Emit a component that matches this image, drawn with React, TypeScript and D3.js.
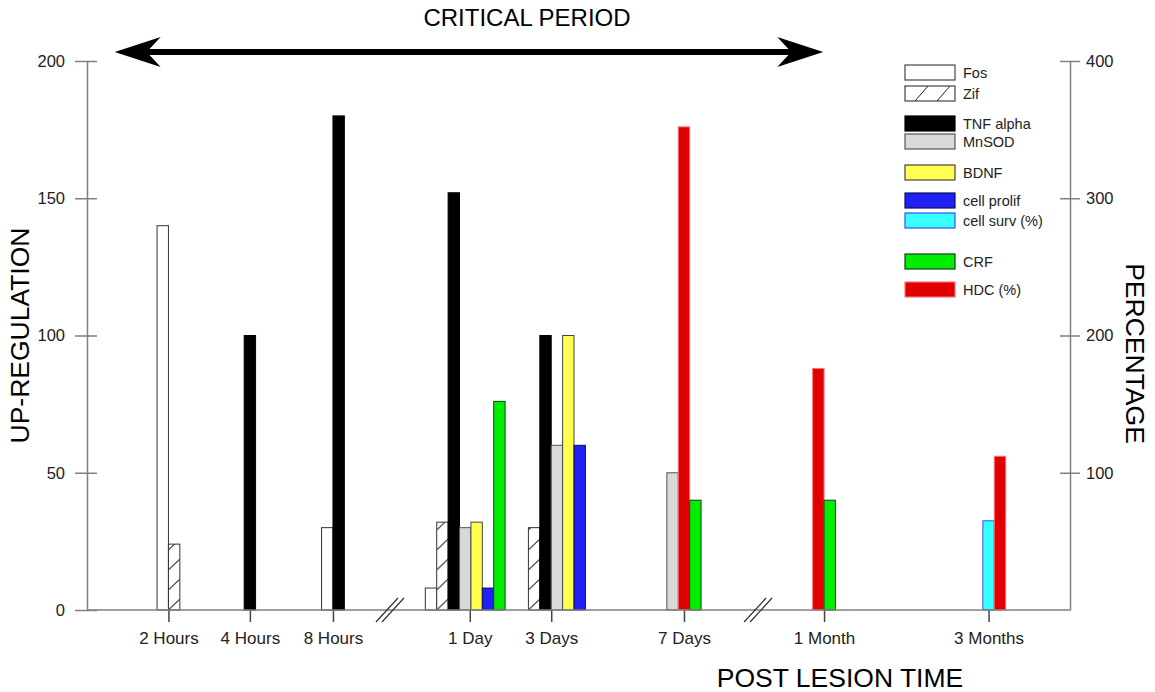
import { useEffect, useRef } from "react";
import * as d3 from "d3";

// Post-lesion time points and where they sit on the (broken) time axis
const categories = ["2 Hours", "4 Hours", "8 Hours", "1 Day", "3 Days", "7 Days", "1 Month", "3 Months"];
const categoryPos = [1, 2, 3.02, 4.7, 5.7, 7.33, 9.05, 11.07];

// Up-regulation values (left axis)
const fos = [140, null, 30, 8, null, null, null, null];
const zif = [24, null, null, 32, 30, null, null, null];
const tnfAlpha = [null, 100, 180, 152, 100, null, null, null];
const mnSod = [null, null, null, 30, 60, 50, null, null];
const bdnf = [null, null, null, 32, 100, null, null, null];
const cellProlif = [null, null, null, 8, 60, null, null, null];
const crf = [null, null, null, 76, null, 40, 40, null];

// Percentage values (right axis)
const cellSurvPct = [null, null, null, null, null, null, null, 65];
const hdcPct = [null, null, null, null, null, 352, 176, 112];

const leftTicks = [0, 50, 100, 150, 200];
const rightTicks = [100, 200, 300, 400];

type Series = {
  name: string;
  values: (number | null)[];
  axis: "left" | "right";
  fill: string;
  stroke: string;
  hatch?: boolean;
};

const S_FOS: Series = { name: "Fos", values: fos, axis: "left", fill: "#ffffff", stroke: "#333" };
const S_ZIF: Series = { name: "Zif", values: zif, axis: "left", fill: "#ffffff", stroke: "#333", hatch: true };
const S_TNF: Series = { name: "TNF alpha", values: tnfAlpha, axis: "left", fill: "#000000", stroke: "#000" };
const S_MNSOD: Series = { name: "MnSOD", values: mnSod, axis: "left", fill: "#d9d9d9", stroke: "#555" };
const S_BDNF: Series = { name: "BDNF", values: bdnf, axis: "left", fill: "#ffff50", stroke: "#444" };
const S_PROLIF: Series = { name: "cell prolif", values: cellProlif, axis: "left", fill: "#2020f5", stroke: "#10105a" };
const S_SURV: Series = { name: "cell surv (%)", values: cellSurvPct, axis: "right", fill: "#38ffff", stroke: "#3050ff" };
const S_CRF: Series = { name: "CRF", values: crf, axis: "left", fill: "#00ee00", stroke: "#1a3a1a" };
const S_HDC: Series = { name: "HDC (%)", values: hdcPct, axis: "right", fill: "#e00000", stroke: "#ff7070" };

const drawOrder = [S_FOS, S_ZIF, S_TNF, S_MNSOD, S_BDNF, S_PROLIF, S_SURV, S_HDC, S_CRF];
const legendOrder = [S_FOS, S_ZIF, S_TNF, S_MNSOD, S_BDNF, S_PROLIF, S_SURV, S_CRF, S_HDC];

// layout
const groupShift = [0, 0, 0, -0.4, 0.5, 0, 0, 0.5];
const legendTops = [65, 86, 116, 134, 165, 193, 213, 254, 282];
const breaks = [3.72, 8.24];
const arrowFrom = 0.34;
const arrowTo = 9.04;

const FONT = "'Liberation Sans', Arial, Helvetica, sans-serif";

export default function App() {
  const svgRef = useRef<SVGSVGElement>(null);

  useEffect(() => {
    if (!svgRef.current) return;
    const svg = d3.select(svgRef.current);
    svg.selectAll("*").remove();

    const left = 87;
    const right = 1070;
    const top = 61;
    const bottom = 610;
    const barW = 11.4;
    const axisColor = "#808080";
    const textColor = "#222";

    const x = d3.scaleLinear().domain([0, 12.07]).range([left, right]);
    const yLeft = d3.scaleLinear().domain([0, 200]).range([bottom, top]);
    const yRight = d3.scaleLinear().domain([0, 400]).range([bottom, top]);

    const defs = svg.append("defs");

    const addHatch = (id: string, x0: number, w: number, y0: number) => {
      const p = defs
        .append("pattern")
        .attr("id", id)
        .attr("patternUnits", "userSpaceOnUse")
        .attr("x", x0)
        .attr("y", y0)
        .attr("width", w)
        .attr("height", 20);
      p.append("rect").attr("width", w).attr("height", 20).attr("fill", "#fff");
      p.append("line")
        .attr("x1", 0)
        .attr("y1", 20)
        .attr("x2", w)
        .attr("y2", 9)
        .attr("stroke", "#222")
        .attr("stroke-width", 1);
    };

    // Bars
    const bars = svg.append("g");
    categories.forEach((_, i) => {
      const present = drawOrder.filter((s) => s.values[i] != null);
      const start = -present.length / 2 + groupShift[i];
      const cx = x(categoryPos[i]);
      present.forEach((s, k) => {
        const v = s.values[i] as number;
        const y = s.axis === "left" ? yLeft(v) : yRight(v);
        const bx = cx + (start + k) * barW;
        let fill = s.fill;
        if (s.hatch) {
          const id = `zif-hatch-${i}`;
          addHatch(id, bx, barW, bottom);
          fill = `url(#${id})`;
        }
        bars
          .append("rect")
          .attr("x", bx)
          .attr("y", y)
          .attr("width", barW)
          .attr("height", bottom - y)
          .attr("fill", fill)
          .attr("stroke", s.stroke)
          .attr("stroke-width", 1);
      });
    });

    // Left axis
    const gl = svg
      .append("g")
      .attr("transform", `translate(${left},0)`)
      .call(d3.axisLeft(yLeft).tickValues(leftTicks).tickSize(12).tickSizeOuter(0).tickPadding(10));
    gl.select(".domain").attr("stroke", axisColor).attr("stroke-width", 1.5);
    gl.selectAll(".tick line").attr("stroke", axisColor).attr("stroke-width", 1.5).attr("x1", 10);
    gl.selectAll(".tick text")
      .attr("fill", textColor)
      .style("font-family", FONT)
      .style("font-size", "16.5px")
      .attr("x", -22);

    // Right axis
    const gr = svg
      .append("g")
      .attr("transform", `translate(${right},0)`)
      .call(d3.axisRight(yRight).tickValues(rightTicks).tickSize(10).tickSizeOuter(0).tickPadding(6));
    gr.select(".domain").attr("stroke", axisColor).attr("stroke-width", 1.5);
    gr.selectAll(".tick line").attr("stroke", axisColor).attr("stroke-width", 1.5).attr("x1", -10);
    gr.selectAll(".tick text")
      .attr("fill", textColor)
      .style("font-family", FONT)
      .style("font-size", "16.5px");

    // Bottom axis
    const gb = svg
      .append("g")
      .attr("transform", `translate(0,${bottom})`)
      .call(
        d3
          .axisBottom(x)
          .tickValues(categoryPos)
          .tickFormat((_, i) => categories[i])
          .tickSize(12)
          .tickSizeOuter(0)
          .tickPadding(10)
      );
    gb.select(".domain").remove();
    gb.append("line")
      .attr("x1", left)
      .attr("x2", right)
      .attr("stroke", axisColor)
      .attr("stroke-width", 1.5);
    gb.selectAll(".tick line").attr("stroke", "#444").attr("stroke-width", 1.5);
    gb.selectAll(".tick text")
      .attr("fill", textColor)
      .style("font-family", FONT)
      .style("font-size", "17px");

    // Axis breaks
    breaks.forEach((b) => {
      const bx = x(b);
      [-3, 3].forEach((dx) => {
        svg
          .append("line")
          .attr("x1", bx + dx - 11)
          .attr("y1", bottom + 12)
          .attr("x2", bx + dx + 11)
          .attr("y2", bottom - 12)
          .attr("stroke", "#333")
          .attr("stroke-width", 1.2);
      });
    });

    // Critical period arrow
    const ay = 52;
    const ax0 = x(arrowFrom);
    const ax1 = x(arrowTo);
    svg
      .append("line")
      .attr("x1", ax0 + 30)
      .attr("x2", ax1 - 30)
      .attr("y1", ay)
      .attr("y2", ay)
      .attr("stroke", "#000")
      .attr("stroke-width", 6);
    const head = (tip: number, dir: number) =>
      `M${tip},${ay} L${tip + dir * 46},${ay - 15} L${tip + dir * 32},${ay} L${tip + dir * 46},${ay + 15} Z`;
    svg.append("path").attr("d", head(ax0, 1)).attr("fill", "#000");
    svg.append("path").attr("d", head(ax1, -1)).attr("fill", "#000");

    svg
      .append("text")
      .attr("x", 527)
      .attr("y", 26)
      .attr("text-anchor", "middle")
      .style("font-family", FONT)
      .style("font-size", "24px")
      .attr("fill", "#000")
      .text("CRITICAL PERIOD");

    // Axis titles
    svg
      .append("text")
      .attr("transform", `translate(29,${(top + bottom) / 2}) rotate(-90)`)
      .attr("text-anchor", "middle")
      .style("font-family", FONT)
      .style("font-size", "26.5px")
      .attr("fill", "#000")
      .text("UP-REGULATION");

    svg
      .append("text")
      .attr("transform", `translate(1126,${(top + bottom) / 2 + 18}) rotate(90)`)
      .attr("text-anchor", "middle")
      .style("font-family", FONT)
      .style("font-size", "26.5px")
      .attr("fill", "#000")
      .text("PERCENTAGE");

    svg
      .append("text")
      .attr("x", 840)
      .attr("y", 687)
      .attr("text-anchor", "middle")
      .style("font-family", FONT)
      .style("font-size", "26.5px")
      .attr("fill", "#000")
      .text("POST LESION TIME");

    // Legend
    const lx = 905;
    const lw = 50;
    const lh = 15;
    const legend = svg.append("g");
    legendOrder.forEach((s, i) => {
      const ly = legendTops[i];
      let fill = s.fill;
      if (s.hatch) {
        const p = defs
          .append("pattern")
          .attr("id", "zif-hatch-legend")
          .attr("patternUnits", "userSpaceOnUse")
          .attr("x", lx + 10)
          .attr("y", ly)
          .attr("width", 22)
          .attr("height", lh);
        p.append("rect").attr("width", 22).attr("height", lh).attr("fill", "#fff");
        p.append("line")
          .attr("x1", 0)
          .attr("y1", lh)
          .attr("x2", 13)
          .attr("y2", 0)
          .attr("stroke", "#222")
          .attr("stroke-width", 1);
        fill = "url(#zif-hatch-legend)";
      }
      legend
        .append("rect")
        .attr("x", lx)
        .attr("y", ly)
        .attr("width", lw)
        .attr("height", lh)
        .attr("fill", fill)
        .attr("stroke", s.hatch || s.name === "Fos" ? "#444" : s.stroke)
        .attr("stroke-width", 1.2);
      legend
        .append("text")
        .attr("x", lx + lw + 8)
        .attr("y", ly + lh / 2 + 5)
        .style("font-family", FONT)
        .style("font-size", "14.5px")
        .attr("fill", textColor)
        .text(s.name);
    });
  }, []);

  return (
    <svg
      ref={svgRef}
      width={1155}
      height={692}
      style={{ position: "absolute", left: 0, top: 0, background: "#fff" }}
    />
  );
}
